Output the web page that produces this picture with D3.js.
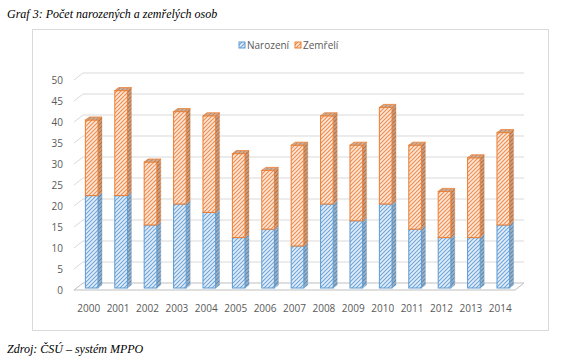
<!DOCTYPE html>
<html>
<head>
<meta charset="utf-8">
<script src="https://cdn.jsdelivr.net/npm/d3@7"></script>
<style>
  body { margin: 0; background: #fff; }
  svg { display: block; }
</style>
</head>
<body>
<div id="chart"></div>
<script>
"use strict";

var years = ["2000","2001","2002","2003","2004","2005","2006","2007","2008","2009","2010","2011","2012","2013","2014"];
var narozeni = [22,22,15,20,18,12,14,10,20,16,20,14,12,12,15];
var zemreli  = [18,25,15,22,23,20,14,24,21,18,23,20,11,19,22];
var yTicks = [0,5,10,15,20,25,30,35,40,45,50];
var seriesNames = ["Narození","Zemřelí"];

var svg = d3.select("#chart").append("svg")
    .attr("width", 566)
    .attr("height", 364);

// hatch patterns (excel style wide upward diagonal)
var defs = svg.append("defs");
function hatch(id, bg, fg) {
    var p = defs.append("pattern")
        .attr("id", id)
        .attr("patternUnits", "userSpaceOnUse")
        .attr("width", 4).attr("height", 4);
    p.append("rect").attr("width", 4).attr("height", 4).attr("fill", bg);
    p.append("path")
        .attr("d", "M-1,1 l2,-2 M0,4 l4,-4 M3,5 l2,-2")
        .attr("stroke", fg).attr("stroke-width", 1.1);
}
hatch("hBlue", "#E4EEF8", "#6FA5D8");
hatch("hBlueSide", "#9FB3C6", "#5F88AE");
hatch("hOrange", "#FCE7D8", "#EE8C4E");
hatch("hOrangeSide", "#C4A28C", "#B8703F");
hatch("hOrangeTop", "#D2B19A", "#B98D70");

// frame
svg.append("rect")
    .attr("x", 32.5).attr("y", 29.5)
    .attr("width", 516).attr("height", 301)
    .attr("fill", "none")
    .attr("stroke", "#D9D9D9");

// 3d geometry
var floorDx = 9, floorDy = -7;   // back wall offset
var barDx = 3, barDy = -2;       // bar front plane offset
var sideDx = 4, sideDy = -3;     // bar depth

var x = d3.scaleBand().domain(years).range([74, 515]).padding(0);
var y = d3.scaleLinear().domain([0, 50]).range([290, 80]);
var barW = x.bandwidth() * 0.43;

// gridlines on back wall + diagonal on side
var grid = svg.append("g");
yTicks.forEach(function (v) {
    if (v === 0) return;
    grid.append("path")
        .attr("d", "M" + 74 + "," + y(v) + "L" + (74 + floorDx) + "," + (y(v) + floorDy) +
            "L" + (515 + floorDx) + "," + (y(v) + floorDy))
        .attr("fill", "none")
        .attr("stroke", "#D9D9D9")
        .attr("stroke-width", 1);
});

// floor
svg.append("path")
    .attr("d", "M74," + y(0) + "L515," + y(0) + "L" + (515 + floorDx) + "," + (y(0) + floorDy) +
        "L" + (74 + floorDx) + "," + (y(0) + floorDy) + "Z")
    .attr("fill", "#fff")
    .attr("stroke", "#BFBFBF")
    .attr("stroke-width", 1);

// y tick labels
svg.append("g").selectAll("text")
    .data(yTicks)
    .enter().append("text")
    .attr("x", 63)
    .attr("y", function (d) { return y(d) + 3.5; })
    .attr("text-anchor", "end")
    .attr("font-family", "Open Sans, sans-serif")
    .attr("font-size", "10px")
    .attr("fill", "#595959")
    .text(function (d) { return d; });

// x labels
svg.append("g").selectAll("text")
    .data(years)
    .enter().append("text")
    .attr("x", function (d) { return x(d) + x.bandwidth() / 2; })
    .attr("y", 312)
    .attr("text-anchor", "middle")
    .attr("font-family", "Open Sans, sans-serif")
    .attr("font-size", "10px")
    .attr("fill", "#595959")
    .text(function (d) { return d; });

// bars
function segment(g, x0, v0, v1, front, side, top, stroke, drawTop) {
    var yb = y(v0) + barDy, yt = y(v1) + barDy;
    var xl = x0, xr = x0 + barW;
    g.append("path")
        .attr("d", "M" + xr + "," + yb + "L" + (xr + sideDx) + "," + (yb + sideDy) +
            "L" + (xr + sideDx) + "," + (yt + sideDy) + "L" + xr + "," + yt + "Z")
        .attr("fill", side).attr("stroke", stroke).attr("stroke-width", 0.5).attr("stroke-opacity", 0.6);
    g.append("rect")
        .attr("x", xl).attr("y", yt)
        .attr("width", barW).attr("height", yb - yt)
        .attr("fill", front).attr("stroke", stroke).attr("stroke-width", 1);
    if (drawTop) {
        g.append("path")
            .attr("d", "M" + xl + "," + yt + "L" + xr + "," + yt + "L" + (xr + sideDx) + "," + (yt + sideDy) +
                "L" + (xl + sideDx) + "," + (yt + sideDy) + "Z")
            .attr("fill", top).attr("stroke", stroke).attr("stroke-width", 0.8);
    }
}

var bars = svg.append("g");
years.forEach(function (yr, i) {
    var x0 = x(yr) + x.bandwidth() / 2 - barW / 2 + barDx;
    var g = bars.append("g");
    segment(g, x0, 0, narozeni[i], "url(#hBlue)", "url(#hBlueSide)", "url(#hBlueSide)", "#5B9BD5", false);
    segment(g, x0, narozeni[i], narozeni[i] + zemreli[i], "url(#hOrange)", "url(#hOrangeSide)", "url(#hOrangeTop)", "#ED7D31", true);
});

// legend
var legend = svg.append("g");
var legendX = [242, 298];
var legendFill = ["url(#hBlue)", "url(#hOrange)"];
var legendStroke = ["#5B9BD5", "#ED7D31"];
seriesNames.forEach(function (n, i) {
    legend.append("rect")
        .attr("x", legendX[i] - 3).attr("y", 42)
        .attr("width", 6).attr("height", 6)
        .attr("fill", legendFill[i]).attr("stroke", legendStroke[i]);
    legend.append("text")
        .attr("x", legendX[i] + 5)
        .attr("y", 49)
        .attr("font-family", "Open Sans, sans-serif")
        .attr("font-size", "10px")
        .attr("fill", "#595959")
        .text(n);
});

// title & source
svg.append("text")
    .attr("x", 7).attr("y", 18)
    .attr("font-family", "Liberation Serif, serif")
    .attr("font-style", "italic")
    .attr("font-size", "12px")
    .attr("fill", "#000")
    .text("Graf 3: Počet narozených a zemřelých osob");

svg.append("text")
    .attr("x", 7).attr("y", 353)
    .attr("font-family", "Liberation Serif, serif")
    .attr("font-style", "italic")
    .attr("font-size", "12px")
    .attr("fill", "#000")
    .text("Zdroj: ČSÚ – systém MPPO");
</script>
</body>
</html>
